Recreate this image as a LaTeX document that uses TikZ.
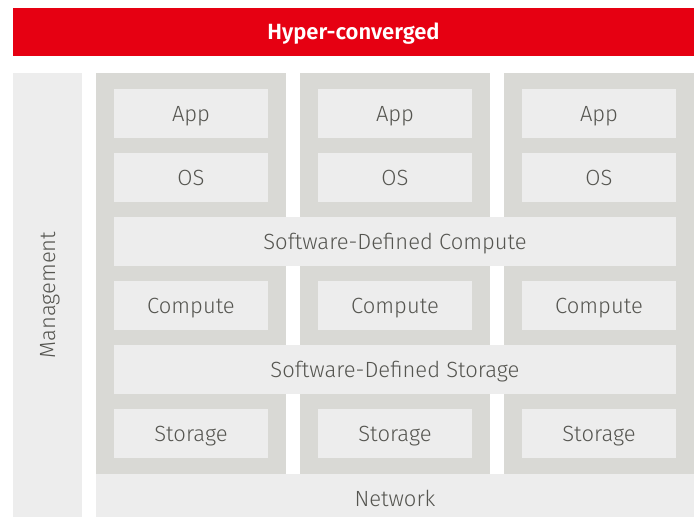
\documentclass[tikz,border=0pt]{standalone}
\usepackage{fontspec}
\setmainfont{Fira Sans}[UprightFont={* Light}, BoldFont={* SemiBold}]
\usepackage{xcolor}
\definecolor{hcred}{RGB}{230, 0, 18}
\definecolor{colgray}{RGB}{217, 217, 213}
\definecolor{cellgray}{RGB}{237, 237, 237}
\definecolor{textgray}{RGB}{85, 85, 80}
\tikzset{
  cell/.style={fill=cellgray, text=textgray, inner sep=0pt, outer sep=0pt,
    minimum height=49pt, text height=15pt, text depth=0pt,
    font=\fontsize{22}{26}\selectfont},
  column/.style={fill=colgray, inner sep=0pt, outer sep=0pt},
  titlebar/.style={fill=hcred, text=white, inner sep=0pt, outer sep=0pt,
    minimum height=48pt, text height=15pt, text depth=0pt,
    font=\fontsize{22}{26}\selectfont\bfseries},
}

\begin{document}
\begin{tikzpicture}[x=1pt, y=-1pt]
		\def\colw{190}
		\def\cellw{154}
		\def\pitch{64}
		\useasboundingbox (0,0) rectangle (697,517);

		% --- Title bar ---
		\node[titlebar, minimum width=681pt] (title) at (353.5, 32) {Hyper-converged};

		% --- Management (left) and network (bottom) ---
		\node[cell, rotate=90, minimum width=444pt, minimum height=69pt] (mgmt) at (47.5, 295) {Management};
		\node[cell, minimum width=598pt, minimum height=43pt, text height=21pt] (network) at (395, 495.5) {Network};

		% --- Node columns with their own cells ---
		\foreach \i in {1,2,3} {
			\pgfmathsetmacro{\cx}{191 + (\i-1)*204}
			\node[column, minimum width=\colw pt, minimum height=401pt] (col\i) at (\cx, 273.5) {};
			\node[cell, minimum width=\cellw pt] (app\i) at (\cx, 113.5) {App};
			\node[cell, minimum width=\cellw pt] (os\i) at (\cx, 113.5+\pitch) {OS};
			\node[cell, minimum width=\cellw pt] (compute\i) at (\cx, 113.5+3*\pitch) {Compute};
			\node[cell, minimum width=\cellw pt] (storage\i) at (\cx, 113.5+5*\pitch) {Storage};
		}

		% --- Software-defined layers across all columns ---
		\node[cell, minimum width=562pt] (sdc) at (395, 113.5+2*\pitch) {Software-Defined Compute};
		\node[cell, minimum width=562pt] (sds) at (395, 113.5+4*\pitch) {Software-Defined Storage};
	\end{tikzpicture}
\end{document}
